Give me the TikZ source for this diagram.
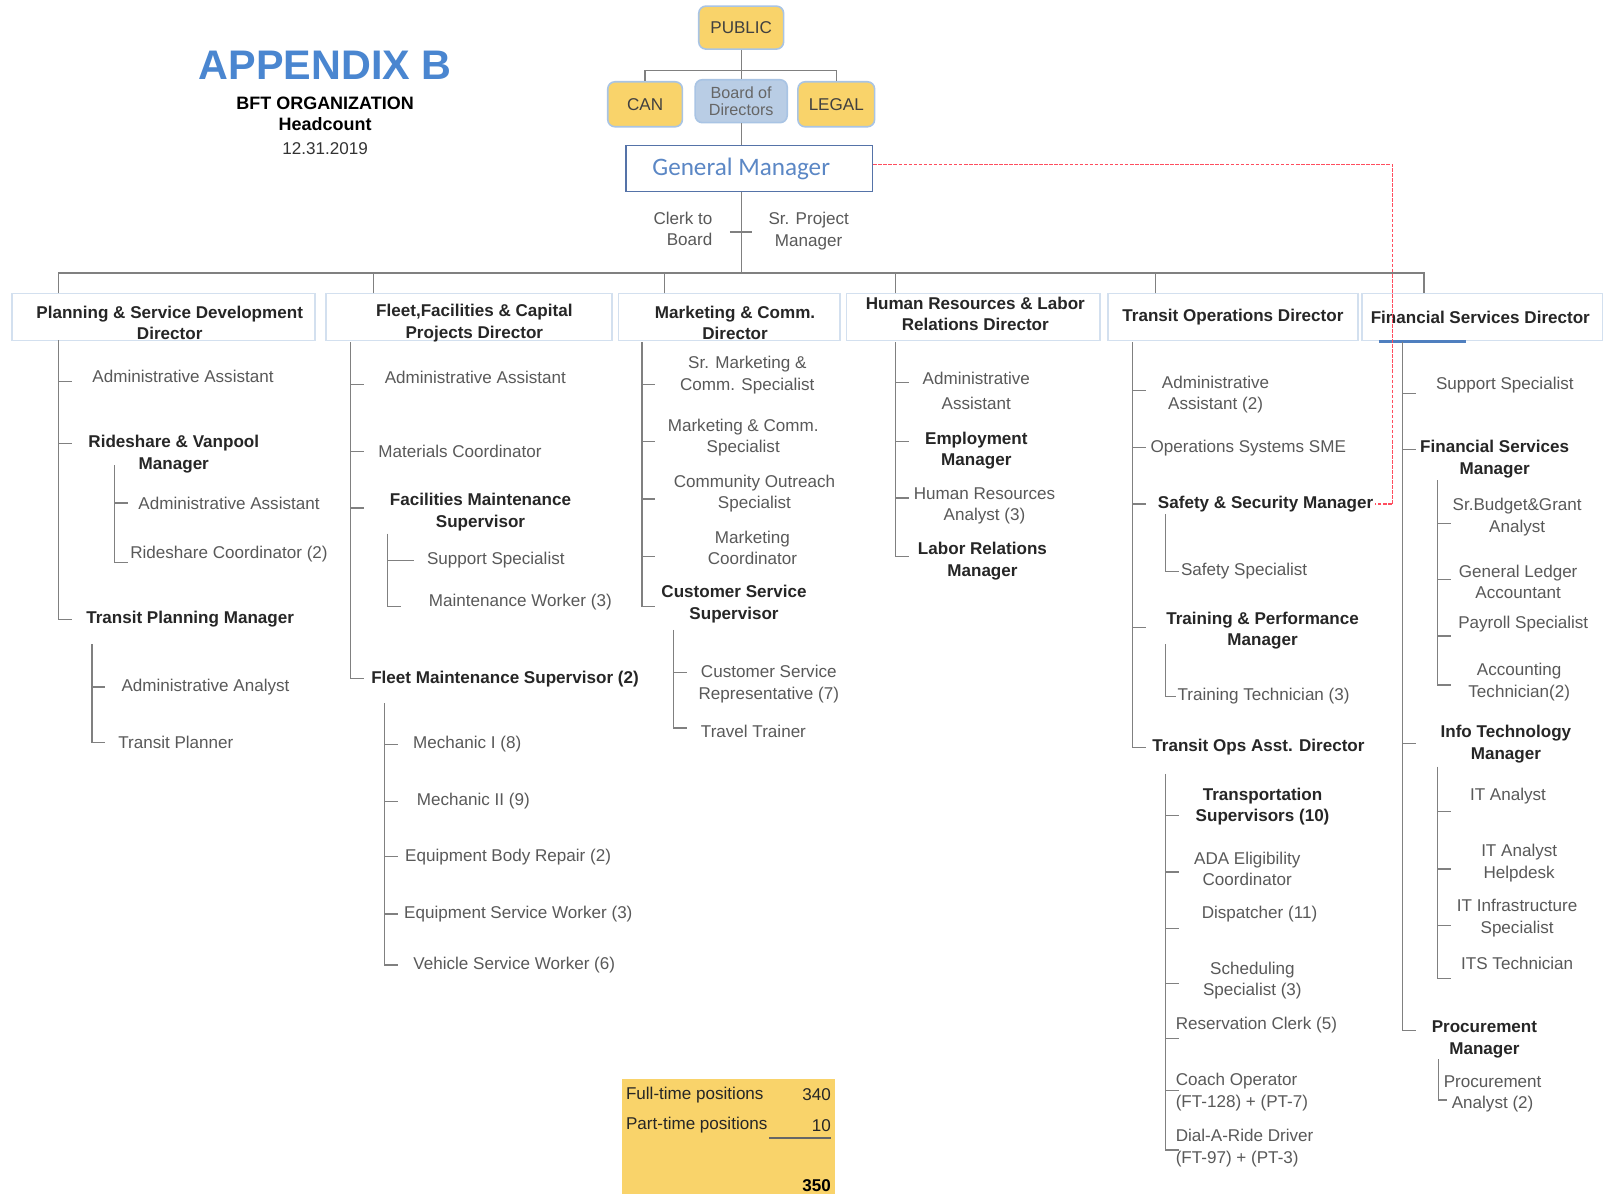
\documentclass[tikz,border=0pt]{standalone}
\usepackage{fontspec}
\setmainfont{Liberation Sans}
\newfontfamily\gmfont{Carlito}
\usetikzlibrary{positioning, calc}
\definecolor{bftblue}{HTML}{4A86D0}
\definecolor{bftgm}{HTML}{5B87C5}
\definecolor{bftgmedge}{HTML}{5573A8}
\definecolor{bftedge}{HTML}{A9C4E4}
\definecolor{bftdir}{HTML}{D3E0EF}
\definecolor{bftyellow}{HTML}{F9D36A}
\definecolor{bftboard}{HTML}{B9CDE5}
\definecolor{bftgray}{HTML}{595959}
\definecolor{bftline}{HTML}{808080}
\definecolor{bftred}{HTML}{FF4D5E}
\definecolor{bftunder}{HTML}{4F7FBF}

\begin{document}
\begin{tikzpicture}[
  x=0.2mm, y=-0.2mm,
  every node/.style={font=\fontsize{9.5}{12}\selectfont},
  job/.style={text=bftgray, align=center, inner sep=1pt},
  mgr/.style={text=black!85, align=center, inner sep=1pt, font=\fontsize{9.5}{12}\selectfont\bfseries},
  dirbox/.style={rectangle, draw=bftdir, line width=1pt, minimum height=0.92cm},
  dirtext/.style={align=center, inner sep=1pt, font=\fontsize{9.5}{12}\selectfont\bfseries, text=black!85},
  topbox/.style={rectangle, rounded corners=4pt, draw=bftedge, line width=0.9pt, fill=bftyellow, align=center, font=\fontsize{9.5}{10}\selectfont, text=black!75},
  orgline/.style={draw=bftline, line width=0.7pt},
]
\useasboundingbox (0,0) rectangle (1568,1168);
\fill[white] (0,0) rectangle (1568,1168);

% title block
\node[font=\fontsize{23}{26}\selectfont\bfseries, text=bftblue] (title) at (318,64) {APPENDIX B};
\node[font=\fontsize{10}{12}\selectfont\bfseries] (org) at (318,101) {BFT ORGANIZATION};
\node[font=\fontsize{10}{12}\selectfont\bfseries] (hc) at (318,121) {Headcount};
\node[text=black!80] (date) at (318,145) {12.31.2019};

% top of the chart
\node[topbox, minimum width=1.66cm, minimum height=0.84cm] (public) at (725,27) {PUBLIC};
\node[topbox, minimum width=1.46cm, minimum height=0.88cm] (can) at (631,102) {CAN};
\node[topbox, fill=bftboard, text=black!60, minimum width=1.8cm, minimum height=0.84cm, font=\fontsize{9}{10}\selectfont] (board) at (725,99) {Board of\\Directors};
\node[topbox, minimum width=1.5cm, minimum height=0.88cm] (legal) at (818,102) {LEGAL};
\node[rectangle, draw=bftgmedge, line width=0.9pt, minimum width=4.82cm, minimum height=0.9cm] (gm) at (733,165) {};
\node[font=\gmfont\fontsize{14}{16}\selectfont, text=bftgm] (gmtx) at (725,165) {General Manager};

\draw[orgline] (public.south) -- (board.north);
\draw[orgline] (can.north) -- ++(0,-10) -| (legal.north);
\draw[orgline] (board.south) -- (board.south |- gm.north);

\node[job, align=right] (clerk) at (668,224) {Clerk to\\Board};
\node[job] (sproj) at (791,226) {Sr. Project\\Manager};
\coordinate (bus) at (725,267);
\draw[orgline] (board.south |- gm.south) -- (bus);
\draw[orgline] ($(bus |- clerk)+(-11,3)$) -- ++(22,0);

% directors
\node[dirbox, minimum width=5.92cm] (plan) at (160,310) {};
\node[dirbox, minimum width=5.6cm] (fleet) at (459,310) {};
\node[dirbox, minimum width=4.34cm] (mkt) at (713.5,310) {};
\node[dirbox, minimum width=4.96cm] (hr) at (952,310) {};
\node[dirbox, minimum width=4.88cm] (ops) at (1206,310) {};
\node[dirbox, minimum width=4.72cm] (fin) at (1450,310) {};
\node[dirtext] (plantx) at (166,316) {Planning \& Service Development\\Director};
\node[dirtext] (fleettx) at (464,316) {Fleet,Facilities \& Capital\\Projects Director};
\node[dirtext] (mkttx) at (719,316) {Marketing \& Comm.\\Director};
\node[dirtext] (hrtx) at (954,307) {Human Resources \& Labor\\Relations Director};
\node[dirtext] (opstx) at (1206,310) {Transit Operations Director};
\node[dirtext] (fintx) at (1448,310) {Financial Services Director};
\draw[bftunder, line width=2pt] ($(fin.south west)+(18,0)$) -- ++(85,0);

\coordinate (d1) at (57,287);
\coordinate (d2) at (365,287);
\coordinate (d3) at (650,287);
\coordinate (d4) at (876,287);
\coordinate (d5) at (1130,287);
\coordinate (d6) at (1393,287);
\draw[orgline] (d1) |- (bus) -| (d6);
\foreach \d in {d2,d3,d4,d5}
  \draw[orgline] (\d) -- (\d |- bus);

% planning
\node[job] (p1) at (179,368) {Administrative Assistant};
\node[mgr] (p2) at (170,444) {Rideshare \& Vanpool\\Manager};
\node[job] (p2a) at (224,492) {Administrative Assistant};
\node[job] (p2b) at (224,542) {Rideshare Coordinator (2)};
\node[mgr] (p3) at (186,606) {Transit Planning Manager};
\node[job] (p3a) at (201,672) {Administrative Analyst};
\node[job] (p3b) at (172,726) {Transit Planner};
\coordinate (t1) at (57,333);
\coordinate (s1a) at (112,455);
\coordinate (s1b) at (90,630);
\draw[orgline] (t1) -- (t1 |- p3) -- ++(13,0);
\foreach \n/\dy in {p1/5, p2/-10}
  \draw[orgline] ($(t1 |- \n)+(0,\dy)$) -- ++(13,0);
\draw[orgline] (s1a) -- ($(s1a |- p2b)+(0,8)$) -- ++(13,0);
\draw[orgline] (s1a |- p2a) -- ++(13,0);
\draw[orgline] (s1b) -- (s1b |- p3b) -- ++(13,0);
\draw[orgline] (s1b |- p3a) -- ++(13,0);

% fleet
\node[job] (f1) at (465,369) {Administrative Assistant};
\node[job] (f2) at (450,442) {Materials Coordinator};
\node[mgr] (f3) at (470,501) {Facilities Maintenance\\Supervisor};
\node[job] (f3a) at (485,548) {Support Specialist};
\node[job] (f3b) at (509,589) {Maintenance Worker (3)};
\node[mgr] (f4) at (494,664) {Fleet Maintenance Supervisor (2)};
\node[job] (f4a) at (457,728) {Mechanic I (8)};
\node[job] (f4b) at (463,784) {Mechanic II (9)};
\node[job] (f4c) at (497,838) {Equipment Body Repair (2)};
\node[job] (f4d) at (507,894) {Equipment Service Worker (3)};
\node[job] (f4e) at (503,944) {Vehicle Service Worker (6)};
\coordinate (t2) at (343,335);
\coordinate (s2a) at (379,522);
\coordinate (s2b) at (376,688);
\draw[orgline] (t2) -- (t2 |- f4) -- ++(13,0);
\foreach \n/\dy in {f1/7, f2/0, f3/-4}
  \draw[orgline] ($(t2 |- \n)+(0,\dy)$) -- ++(13,0);
\draw[orgline] (s2a) -- ($(s2a |- f3b)+(0,4)$) -- ++(13,0);
\draw[orgline] (s2a |- f3a) -- ++(26,0);
\draw[orgline] (s2b) -- (s2b |- f4e) -- ++(13,0);
\foreach \n in {f4a, f4b, f4c, f4d}
  \draw[orgline] (s2b |- \n) -- ++(13,0);

% marketing
\node[job] (m1) at (731,367) {Sr. Marketing \&\\Comm. Specialist};
\node[job] (m2) at (727,428) {Marketing \& Comm.\\Specialist};
\node[job] (m3) at (738,483) {Community Outreach\\Specialist};
\node[job] (m4) at (736,536) {Marketing\\Coordinator};
\node[mgr] (m5) at (718,591) {Customer Service\\Supervisor};
\node[job] (m5a) at (752,669) {Customer Service\\Representative (7)};
\node[job] (m5b) at (737,715) {Travel Trainer};
\coordinate (t3) at (628,335);
\coordinate (s3a) at (659,616);
\draw[orgline] (t3) -- ($(t3 |- m5)+(0,2)$) -- ++(13,0);
\foreach \n/\dy in {m1/9, m2/4, m3/5, m4/8}
  \draw[orgline] ($(t3 |- \n)+(0,\dy)$) -- ++(13,0);
\draw[orgline] (s3a) -- ($(s3a |- m5b)+(0,-3)$) -- ++(13,0);
\draw[orgline] ($(s3a |- m5a)+(0,-11)$) -- ++(13,0);

% human resources
\node[job] (h1) at (955,382) {Administrative\\[2pt]Assistant};
\node[mgr] (h2) at (955,441) {Employment\\Manager};
\node[job] (h3) at (963,495) {Human Resources\\Analyst (3)};
\node[mgr] (h4) at (961,549) {Labor Relations\\Manager};
\coordinate (t4) at (876,335);
\draw[orgline] (t4) -- ($(t4 |- h4)+(0,-5)$) -- ++(13,0);
\foreach \n/\dy in {h1/-8, h2/-9, h3/-8}
  \draw[orgline] ($(t4 |- \n)+(0,\dy)$) -- ++(13,0);

% transit operations
\node[job] (o1) at (1189,386) {Administrative\\Assistant (2)};
\node[job] (o2) at (1221,438) {Operations Systems SME};
\node[mgr] (o3) at (1238,493) {Safety \& Security Manager};
\node[job] (o3a) at (1217,559) {Safety Specialist};
\node[mgr] (o4) at (1235,617) {Training \& Performance\\Manager};
\node[job] (o4a) at (1236,681) {Training Technician (3)};
\node[mgr] (o5) at (1231,731) {Transit Ops Asst. Director};
\node[mgr] (o5a) at (1235,789) {Transportation\\Supervisors (10)};
\node[job] (o5b) at (1220,850) {ADA Eligibility\\Coordinator};
\node[job] (o5c) at (1232,894) {Dispatcher (11)};
\node[job] (o5d) at (1225,959) {Scheduling\\Specialist (3)};
\node[job] (o5e) at (1229,1003) {Reservation Clerk (5)};
\node[job, align=left, anchor=west] (o5f) at (1148,1068) {Coach Operator\\(FT-128) + (PT-7)};
\node[job, align=left, anchor=west] (o5g) at (1148,1123) {Dial-A-Ride Driver\\(FT-97) + (PT-3)};
\coordinate (t5) at (1108,335);
\coordinate (s5a) at (1140,503);
\coordinate (s5b) at (1140,630);
\coordinate (s5c) at (1140,757);
\draw[orgline] (t5) -- (t5 |- o5) -- ++(13,0);
\foreach \n/\dy in {o1/-4, o2/0, o3/0, o4/-3}
  \draw[orgline] ($(t5 |- \n)+(0,\dy)$) -- ++(13,0);
\draw[orgline] (s5a) -- (s5a |- o3a) -- ++(13,0);
\draw[orgline] (s5b) -- (s5b |- o4a) -- ++(10,0);
\draw[orgline] (s5c) -- ($(s5c |- o5g)+(0,2)$) -- ++(13,0);
\foreach \n/\dy in {o5a/9, o5b/3, o5c/14, o5d/3, o5e/13, o5f/-1}
  \draw[orgline] ($(s5c |- \n)+(0,\dy)$) -- ++(13,0);

% financial services
\node[job] (c1) at (1472,377) {Support Specialist};
\node[mgr] (c2) at (1462,449) {Financial Services\\Manager};
\node[job] (c2a) at (1484,506) {Sr.Budget\&Grant\\Analyst};
\node[job] (c2b) at (1485,569) {General Ledger\\Accountant};
\node[job] (c2c) at (1490,610) {Payroll Specialist};
\node[job] (c2d) at (1486,667) {Accounting\\Technician(2)};
\node[mgr] (c3) at (1473,728) {Info Technology\\Manager};
\node[job] (c3a) at (1475,779) {IT Analyst};
\node[job] (c3b) at (1486,844) {IT Analyst\\Helpdesk};
\node[job] (c3c) at (1484,898) {IT Infrastructure\\Specialist};
\node[job] (c3d) at (1484,942) {ITS Technician};
\node[mgr] (c4) at (1452,1017) {Procurement\\Manager};
\node[job] (c4a) at (1460,1070) {Procurement\\Analyst (2)};
\coordinate (t6) at (1372,335);
\coordinate (s6a) at (1406,470);
\coordinate (s6b) at (1406,750);
\coordinate (s6c) at (1407,1036);
\draw[orgline] (t6) -- ($(t6 |- c4)+(0,-9)$) -- ++(13,0);
\foreach \n/\dy in {c1/8, c2/-9, c3/-1}
  \draw[orgline] ($(t6 |- \n)+(0,\dy)$) -- ++(13,0);
\draw[orgline] (s6a) -- ($(s6a |- c2d)+(0,3)$) -- ++(13,0);
\foreach \n/\dy in {c2a/6, c2b/-2, c2c/12}
  \draw[orgline] ($(s6a |- \n)+(0,\dy)$) -- ++(13,0);
\draw[orgline] (s6b) -- ($(s6b |- c3d)+(0,15)$) -- ++(13,0);
\foreach \n/\dy in {c3a/15, c3b/6, c3c/7}
  \draw[orgline] ($(s6b |- \n)+(0,\dy)$) -- ++(13,0);
\draw[orgline] (s6c) -- ($(s6c |- c4a)+(0,6)$) -- ++(8,0);

% dotted reporting line
\draw[bftred, line width=0.7pt, dash pattern=on 2pt off 0.8pt] ($(gm.east)+(0,-4)$) -| ($(o3.east)+(17,0)$) -- (o3.east);

% headcount summary
\node[rectangle, fill=bftyellow, minimum width=4.18cm, minimum height=2.26cm, inner sep=0pt] (summary) at (712.5,1111.5) {};
\node[anchor=west, inner sep=0pt, text=black!85] (ft) at (612,1071) {Full-time positions};
\node[anchor=east, inner sep=0pt, text=black!85] (ftn) at (813,1071) {340};
\node[anchor=west, inner sep=0pt, text=black!85] (pt) at (612,1101) {Part-time positions};
\node[anchor=east, inner sep=0pt, text=black!85] (ptn) at (813,1101) {10};
\draw[black!60, line width=0.7pt] ($(ptn.south east)+(0,6)$) -- ++(-61,0);
\node[anchor=east, inner sep=0pt, font=\fontsize{9.5}{12}\selectfont\bfseries] (total) at (813,1160) {350};

\end{tikzpicture}
\end{document}
